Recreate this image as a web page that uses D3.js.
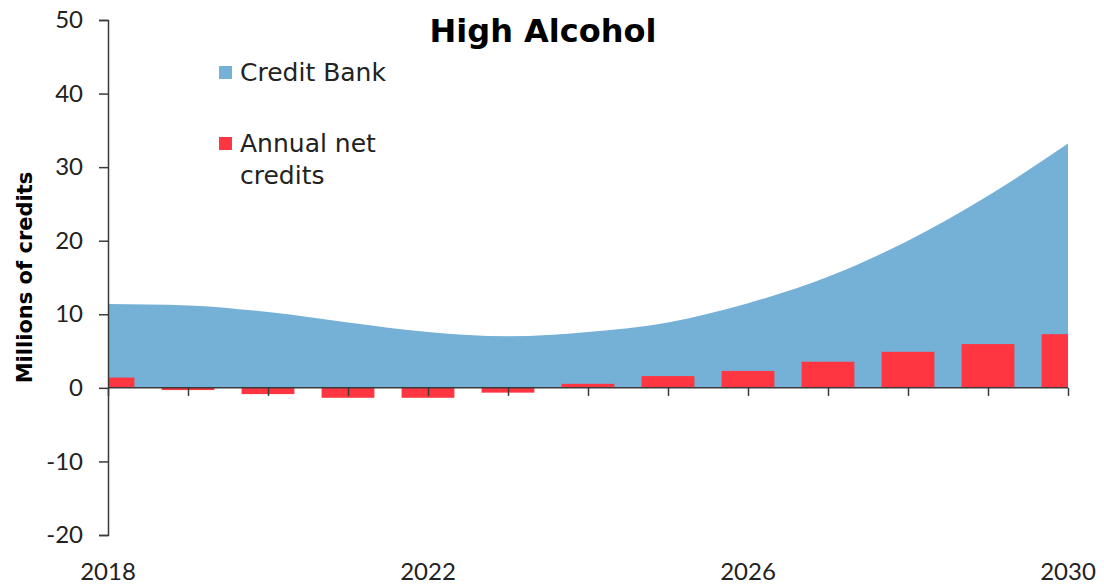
<!DOCTYPE html>
<html>
<head>
<meta charset="utf-8">
<script src="https://cdn.jsdelivr.net/npm/d3@7"></script>
<style>
  html, body { margin: 0; padding: 0; background: #fff; }
  svg { display: block; font-family: "DejaVu Sans", sans-serif; }
</style>
</head>
<body>
<svg id="chart" width="1104" height="586"></svg>
<script>
// Years on the horizontal axis
const years = [2018, 2019, 2020, 2021, 2022, 2023, 2024, 2025, 2026, 2027, 2028, 2029, 2030];
// Cumulative credit bank (millions of credits)
const creditBank = [11.4, 11.2, 10.3, 8.9, 7.6, 7.0, 7.6, 8.9, 11.5, 15.1, 20.0, 26.1, 33.2];
// Annual net credits (millions of credits)
const annualNet = [1.4, -0.3, -0.85, -1.35, -1.35, -0.65, 0.55, 1.6, 2.3, 3.55, 4.9, 5.95, 7.3];
// Axis ticks
const yTicks = [-20, -10, 0, 10, 20, 30, 40, 50];
const xLabelYears = [2018, 2022, 2026, 2030];

const svg = d3.select("#chart");
const plot = { left: 108, right: 1068, top: 20, bottom: 535 };

const x = d3.scaleLinear().domain([2018, 2030]).range([plot.left, plot.right]);
const y = d3.scaleLinear().domain([-20, 50]).range([plot.bottom, plot.top]);

const blue = "#75b0d6";
const red = "#fd3642";
const axisColor = "#3a3a3a";
const numFont = "Lato, sans-serif";

// Clip bars to the plot span so the end bars show as halves
svg.append("defs").append("clipPath").attr("id", "plotClip")
  .append("rect")
  .attr("x", plot.left).attr("y", plot.top)
  .attr("width", plot.right - plot.left).attr("height", plot.bottom - plot.top);

const series = years.map((yr, i) => ({ year: yr, bank: creditBank[i], net: annualNet[i] }));

// Credit bank area
const area = d3.area()
  .x(d => x(d.year))
  .y0(y(0))
  .y1(d => y(d.bank))
  .curve(d3.curveMonotoneX);

svg.append("path")
  .datum(series)
  .attr("d", area)
  .attr("fill", blue);

// Annual net credit bars
const barW = (x(2019) - x(2018)) * 0.66;
svg.append("g").attr("clip-path", "url(#plotClip)")
  .selectAll("rect")
  .data(series)
  .join("rect")
  .attr("x", d => x(d.year) - barW / 2)
  .attr("width", barW)
  .attr("y", d => y(Math.max(0, d.net)))
  .attr("height", d => Math.abs(y(d.net) - y(0)))
  .attr("fill", red);

// Y axis (plain hyphen for negatives)
const yAxis = d3.axisLeft(y).tickValues(yTicks).tickSize(9).tickPadding(16).tickFormat(d => String(d));
const gy = svg.append("g").attr("transform", `translate(${plot.left},0)`).call(yAxis);
gy.select(".domain").attr("stroke", axisColor).attr("stroke-width", 1.5);
gy.selectAll(".tick line").attr("stroke", axisColor).attr("stroke-width", 1.5);
gy.selectAll(".tick text")
  .attr("fill", "#222")
  .style("font-size", "24px")
  .style("font-family", numFont);

// X axis along zero, ticks every year
const xAxis = d3.axisBottom(x).tickValues(years).tickSize(8).tickFormat("");
const gx = svg.append("g").attr("transform", `translate(0,${y(0)})`).call(xAxis);
gx.select(".domain").attr("stroke", axisColor).attr("stroke-width", 1.5).attr("d", `M${plot.left},0H${plot.right}`);
gx.selectAll(".tick line").attr("stroke", axisColor).attr("stroke-width", 1.5);

// Year labels below the plot
svg.append("g").selectAll("text")
  .data(xLabelYears)
  .join("text")
  .attr("x", d => x(d))
  .attr("y", 580)
  .attr("text-anchor", "middle")
  .attr("fill", "#222")
  .style("font-size", "24px")
  .style("font-family", numFont)
  .text(d => d);

// Title
svg.append("text")
  .attr("x", 543).attr("y", 42)
  .attr("text-anchor", "middle")
  .attr("fill", "#000")
  .style("font-size", "32px")
  .style("font-weight", "bold")
  .text("High Alcohol");

// Y axis title
svg.append("text")
  .attr("transform", `translate(32,${(plot.top + plot.bottom) / 2}) rotate(-90)`)
  .attr("text-anchor", "middle")
  .attr("fill", "#000")
  .style("font-size", "21px")
  .style("font-weight", "bold")
  .text("Millions of credits");

// Legend
const legend = svg.append("g");
legend.append("rect").attr("x", 219).attr("y", 66).attr("width", 13).attr("height", 13).attr("fill", blue);
legend.append("text").attr("x", 240).attr("y", 81).attr("fill", "#222").style("font-size", "25px").text("Credit Bank");
legend.append("rect").attr("x", 219).attr("y", 137).attr("width", 13).attr("height", 13).attr("fill", red);
legend.append("text").attr("x", 240).attr("y", 152).attr("fill", "#222").style("font-size", "25px").text("Annual net");
legend.append("text").attr("x", 240).attr("y", 184).attr("fill", "#222").style("font-size", "25px").text("credits");
</script>
</body>
</html>
